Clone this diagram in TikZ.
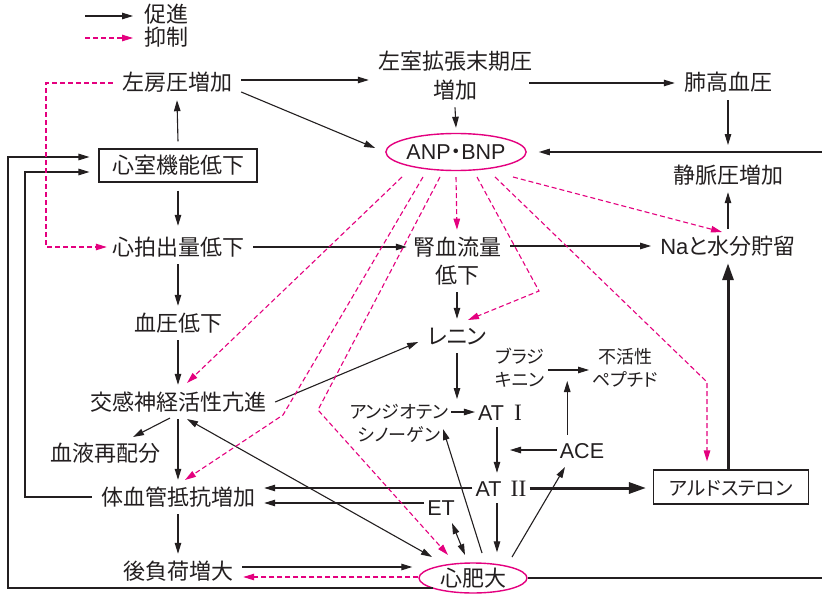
\documentclass[tikz,border=0pt]{standalone}
\usepackage{fontspec}
\setmainfont{Noto Sans CJK JP}[RawFeature=+palt]
\newfontfamily\lat{Liberation Sans}
\newfontfamily\ser{Liberation Serif}
\usetikzlibrary{arrows.meta,calc,shapes.geometric}
\definecolor{ink}{HTML}{231F20}
\definecolor{mag}{HTML}{E4007F}
\newcommand{\romI}{{\fontsize{23.5}{26}\selectfont\ser I}}
\newcommand{\romII}{{\fontsize{23.5}{26}\selectfont\ser I\kern0.2pt I}}
\tikzset{
 t/.style={font=\fontsize{22}{28}\selectfont, text=ink, inner xsep=9pt, inner ysep=7pt, text height=18pt, text depth=2pt},
 tm/.style={font=\fontsize{22}{29}\selectfont, text=ink, inner xsep=9pt, inner ysep=7pt, align=center},
 ts/.style={font=\fontsize{18}{23}\selectfont, text=ink, inner xsep=3pt, inner ysep=4pt, align=center},
 tl/.style={font=\fontsize{21.5}{26}\selectfont\lat, text=ink, inner xsep=3pt, inner ysep=7pt, text height=16pt, text depth=0pt},
 el/.style={ellipse, draw=mag, line width=1.4pt, inner sep=0pt, text=ink},
 bx/.style={draw=ink, line width=1.1pt},
 ln/.style={line width=1.1pt, draw=ink},
 ar/.style={ln, -{Triangle[length=11pt,width=6.5pt]}},
 ar2/.style={ln, {Triangle[length=11pt,width=6.5pt]}-{Triangle[length=11pt,width=6.5pt]}},
 inh/.style={line width=1.1pt, draw=mag, dash pattern=on 5pt off 3pt, -{Triangle[length=11pt,width=6.5pt]}},
 tk/.style={line width=3pt, draw=ink, -{Triangle[length=17pt,width=11pt]}},
}
\begin{document}
\begin{tikzpicture}[x=1pt,y=-1pt]
\path[fill=white,use as bounding box] (0,0) rectangle (822,594);
% coordinates for bends and loops
\coordinate (lg1a) at (85,16);
\coordinate (lg2a) at (85,38);
\coordinate (dl) at (46,0);
\coordinate (o1) at (8,0);
\coordinate (o2) at (25,0);
\coordinate (rx) at (832,0);
\coordinate (bB) at (283,415);
\coordinate (bC) at (318,410);
\coordinate (bE) at (539,291);
\coordinate (bF) at (707,382);
% legend
\node[t, anchor=west, inner xsep=3pt] (lg1) at (141,15) {促進};
\node[t, anchor=west, inner xsep=3pt] (lg2) at (141,38) {抑制};
\draw[ar] (lg1a) -- ($(lg1.west |- lg1a)+(-8,0)$);
\draw[inh] (lg2a) -- ($(lg2.west |- lg2a)+(-8,0)$);
% nodes
\node[t] (la) at (177,83) {左房圧増加};
\node[tm] (lv) at (455,75.5) {左室拡張末期圧\\増加};
\node[t] (ph) at (728,83) {肺高血圧};
\node[el, minimum width=138pt, minimum height=37pt, font=\fontsize{21.5}{26}\selectfont, text height=15.4pt, text depth=0pt] (anp) at (456,152) {{\lat ANP}・{\lat BNP}};
\node[t] (vp) at (728,175) {静脈圧増加};
\node[t, bx, inner xsep=13pt, inner ysep=5pt, minimum height=33pt] (vd) at (178,165.5) {心室機能低下};
\node[t] (co) at (178,247) {心拍出量低下};
\node[tm, font=\fontsize{22}{28}\selectfont] (rb) at (457,261) {腎血流量\\低下};
\node[t] (na) at (728,246) {{\lat Na}と水分貯留};
\node[t] (bp) at (178,323) {血圧低下};
\node[t] (ren) at (457,336) {レニン};
\node[ts] (bk) at (520,368) {ブラジ\\キニン};
\node[ts] (ip) at (625,368) {不活性\\ペプチド};
\node[t] (sn) at (178,402) {交感神経活性亢進};
\node[ts] (ag) at (399,423) {アンジオテン\\シノーゲン};
\node[tl] (at1) at (500,412) {AT\hspace{10pt}\romI};
\node[tl] (ace) at (582,450) {ACE};
\node[tl] (at2) at (501,488) {AT\hspace{9pt}\romII};
\node[t] (br) at (105,453) {血液再配分};
\node[t] (svr) at (178,497) {体血管抵抗増加};
\node[tl] (et) at (441,507) {ET};
\node[t, bx, font=\fontsize{19.5}{24}\selectfont, minimum width=155pt, minimum height=34pt, inner ysep=0pt] (ald) at (731,487) {アルドステロン};
\node[t, el, minimum width=108pt, minimum height=30pt, inner xsep=0pt, inner ysep=0pt] (hyp) at (473,578) {心肥大};
\node[t] (al) at (178,571) {後負荷増大};
% solid connectors
\draw[ar] ($(la.east)+(0,-3)$) -- ($(la.east -| lv.west)+(0,-3)$);
\draw[ar] ($(la.east)+(0,9)$) -- ($(anp.west)+(-10,-4)$);
\draw[ar] ($(lv.east |- ph.west)+(-12,0)$) -- (ph.west);
\draw[ar] (lv.south) -- ($(anp.north)+(0,-5)$);
\draw[ar] (ph.south) -- ($(ph.south |- anp.east)+(0,-7)$);
\draw[ar] (hyp.east) -- (hyp.east -| rx) -- (rx |- anp.east) -- ($(anp.east)+(12,0)$);
\draw[ar] (na.north) -- (vp.south);
\draw[ar] ($(vd.north)+(0,-7)$) -- (la.south);
\draw[ar] ($(vd.south)+(0,8)$) -- ($(co.north)+(0,-4)$);
\draw[ar] (co.east) -- ($(co.east -| rb.west)+(3,0)$);
\draw[ar] (rb.east |- na.west) -- (na.west);
\draw[ar] (co.south) -- (bp.north);
\draw[ar] (bp.south) -- (sn.north);
\draw[ar] (rb.south) -- (ren.north);
\draw[ar] (sn.east) -- ($(ren.west)+(0,6)$);
\draw[ar] (ag.east |- at1.west) -- coordinate[pos=0.35] (m1) (at1.west);
\draw[ar] (ren.south) -- ($(ren.south |- m1)+(0,-13)$);
\draw[ar] ($(at1.south)+(-3,0)$) -- ($(at2.north)+(-4,0)$);
\draw[ar] (ace.west) -- ($(ace.west -| at1.south)+(10,0)$);
\draw[ar] ($(bk.east)+(0,2)$) -- coordinate[pos=0.47] (m3) ($(ip.west)+(0,2)$);
\draw[ar] (ace.north -| m3) -- ($(m3)+(0,11)$);
\draw[tk, shorten >=7pt] (at2.east) -- (at2.east -| ald.west);
\draw[tk] (ald.north -| na.south) -- (na.south);
\draw[ar] (at2.west) -- (at2.west -| svr.east);
\draw[ar] ($(et.west)+(0,-4)$) -- ($(et.west -| svr.east)+(0,-4)$);
\draw[ar2] ($(et)+(11,16)$) -- ($(hyp)+(-8,-23)$);
\draw[ar] ($(hyp)+(9,-25)$) -- ($(ag)+(44,6)$);
\draw[ar] ($(at2.south)+(-4,0)$) -- ($(hyp.north -| at2.south)+(-4,-10)$);
\draw[ar] ($(hyp)+(39,-21)$) -- ($(ace)+(-17,17)$);
\draw[ar2] ($(sn)+(9,17)$) -- ($(hyp)+(-41,-21)$);
\draw[ar] ($(sn)+(-8,16)$) -- ($(br)+(28,-16)$);
\draw[ar] (sn.south) -- (svr.north);
\draw[ar] (svr.south) -- (al.north);
\draw[ar, shorten >=6pt] ($(al.east)+(0,-4)$) -- ($(al.east -| hyp.west)+(0,-4)$);
\draw[inh] ($(hyp.west)+(0,-1)$) -- ($(hyp.west -| al.east)+(1,-1)$);
\draw[ar, shorten >=9pt] (svr.west) -- (svr.west -| o2) -- ($(o2 |- vd.west)+(0,6.5)$) -- ($(vd.west)+(0,6.5)$);
\draw[ar, shorten >=9pt] ($(hyp)+(-40,10)$) -- ($(hyp -| o1)+(0,10)$) -- ($(o1 |- vd.west)+(0,-8.5)$) -- ($(vd.west)+(0,-8.5)$);
% inhibitory
\draw[inh] (la.west) -- (la.west -| dl) -- (dl |- co.west) -- ($(co.west)+(4,0)$);
\draw[inh] ($(anp)+(-54,25)$) -- ($(sn)+(9,-19)$);
\draw[inh] ($(anp)+(-33,25)$) -- (bB) -- ($(svr)+(7,-17)$);
\draw[inh] ($(anp)+(-16,25)$) -- (bC) -- ($(hyp)+(-25,-23)$);
\draw[inh] ($(anp.south)+(0,6)$) -- (rb.north);
\draw[inh] ($(anp)+(21,25)$) -- (bE) -- ($(ren)+(11,-16)$);
\draw[inh] ($(anp)+(39,25)$) -- (bF) -- ($(ald.north -| bF)+(0,-8)$);
\draw[inh] ($(anp)+(57,25)$) -- ($(na)+(-6,-14)$);
\end{tikzpicture}
\end{document}
